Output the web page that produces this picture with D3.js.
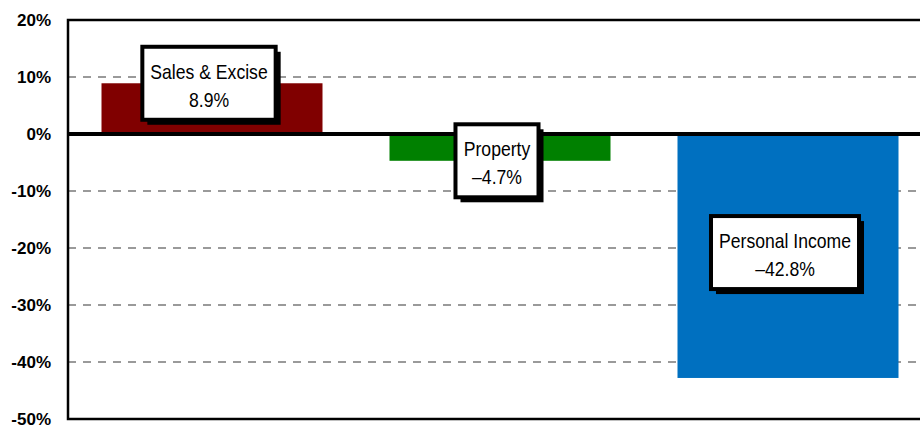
<!DOCTYPE html>
<html>
<head>
<meta charset="utf-8">
<script src="https://cdn.jsdelivr.net/npm/d3@7"></script>
<style>
  body { margin: 0; background: #fff; }
  svg { display: block; font-family: "Liberation Sans", Arial, sans-serif; }
</style>
</head>
<body>
<svg id="chart" width="920" height="425"></svg>
<script>
// data
const categories = ["Sales & Excise", "Property", "Personal Income"];
const values = [8.9, -4.7, -42.8];
const valueLabels = ["8.9%", "\u20134.7%", "\u201342.8%"];
const labelAnchor = [8.9, -4.7, -20.8]; // where each label box sits, in % units
const colors = ["#800000", "#008000", "#0070c0"];
const yTicks = [20, 10, 0, -10, -20, -30, -40, -50];

const svg = d3.select("#chart");
const margin = { left: 68, top: 20 };
const plotW = 864, plotH = 399;

const x = d3.scaleBand()
  .domain(categories)
  .range([margin.left, margin.left + plotW])
  .paddingInner(67 / 288)
  .paddingOuter(33.5 / 288);
const y = d3.scaleLinear().domain([-50, 20]).range([margin.top + plotH, margin.top]);

const g = svg.append("g");

// dashed gridlines
g.selectAll("line.grid")
  .data(yTicks.filter((d) => d !== 0 && d !== 20 && d !== -50))
  .enter()
  .append("line")
  .attr("x1", margin.left).attr("x2", margin.left + plotW)
  .attr("y1", (d) => y(d)).attr("y2", (d) => y(d))
  .attr("stroke", "#7a7a7a")
  .attr("stroke-width", 1.4)
  .attr("stroke-dasharray", "8,7");

// bars
g.selectAll("rect.bar")
  .data(values)
  .enter()
  .append("rect")
  .attr("x", (d, i) => x(categories[i]))
  .attr("width", x.bandwidth())
  .attr("y", (d) => y(Math.max(0, d)))
  .attr("height", (d) => Math.abs(y(d) - y(0)))
  .attr("fill", (d, i) => colors[i]);

// plot frame
g.append("rect")
  .attr("x", margin.left).attr("y", margin.top)
  .attr("width", plotW).attr("height", plotH)
  .attr("fill", "none")
  .attr("stroke", "#000")
  .attr("stroke-width", 2.5);

// zero line
g.append("line")
  .attr("x1", margin.left).attr("x2", margin.left + plotW)
  .attr("y1", y(0)).attr("y2", y(0))
  .attr("stroke", "#000")
  .attr("stroke-width", 4);

// y axis labels
const yAxis = d3.axisLeft(y).tickValues(yTicks).tickSize(0).tickPadding(17).tickFormat((d) => d + "%");
svg.append("g")
  .attr("transform", `translate(${margin.left},0)`)
  .call(yAxis)
  .call((s) => s.select(".domain").remove())
  .selectAll("text")
  .attr("font-family", "'Liberation Sans', Arial, sans-serif")
  .attr("font-size", 17)
  .attr("font-weight", "bold")
  .attr("fill", "#000");

// label boxes (text slightly condensed, like the original)
const squeeze = 0.88;
categories.forEach((c, i) => {
  const cx = x(c) + x.bandwidth() / 2 - 3;
  const cy = y(labelAnchor[i]);
  const lg = svg.append("g");
  const tg = lg.append("g").attr("transform", `translate(${cx},${cy}) scale(${squeeze},1)`);
  const txt = tg.append("text")
    .attr("text-anchor", "middle")
    .attr("font-size", 20)
    .attr("fill", "#000");
  txt.append("tspan").attr("x", 0).attr("y", -4.5).text(c);
  txt.append("tspan").attr("x", 0).attr("y", 23.5).text(valueLabels[i]);
  const w = txt.node().getBBox().width * squeeze + 16, h = 73;
  const bx = cx - w / 2, by = cy - 36.5;
  lg.insert("rect", "g")
    .attr("x", bx + 5).attr("y", by + 5)
    .attr("width", w).attr("height", h)
    .attr("fill", "#000");
  lg.insert("rect", "g")
    .attr("x", bx).attr("y", by)
    .attr("width", w).attr("height", h)
    .attr("fill", "#fff")
    .attr("stroke", "#000")
    .attr("stroke-width", 4);
});
</script>
</body>
</html>
